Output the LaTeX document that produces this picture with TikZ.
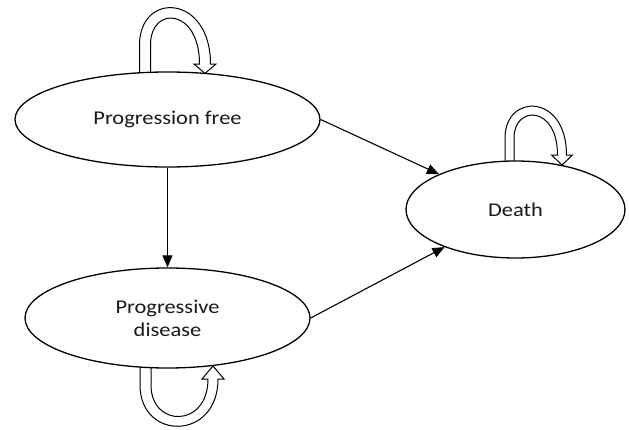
\documentclass[tikz,border=0pt]{standalone}
\usepackage{fontspec}
\setmainfont{Carlito}
\newfontfamily\lblfont[FakeStretch=1.15]{Carlito}
\usetikzlibrary{shapes.geometric,arrows.meta}
\begin{document}
\begin{tikzpicture}[x=1pt,y=-1pt,
  state/.style={ellipse, draw=black, fill=white, line width=1.3pt, inner sep=0pt,
    font=\lblfont\fontsize{19.5}{23}\selectfont, text=black!90, align=center},
  trans/.style={draw=black, line width=1.1pt, -{Triangle[length=12pt,width=10pt]}},
  loopshape/.style={draw=black, fill=white, line width=1pt}]
\useasboundingbox (0,0) rectangle (629,429);
% self-loops (hollow curved arrows)
\path[loopshape] (139.5,78) -- (139.5,45) .. controls (139.5,-9) and (210.5,-6) .. (210.5,64)
  -- (216,64) -- (205,73.5) -- (194,64) -- (199.5,64)
  .. controls (199.5,8) and (150.5,5) .. (150.5,45) -- (150.5,78) -- cycle;
\path[loopshape] (505,168) -- (505,138) .. controls (505,93) and (566.5,93) .. (566.5,155)
  -- (572.5,155) -- (562,165) -- (551.5,155) -- (557.5,155)
  .. controls (557.5,105) and (514,105) .. (514,138) -- (514,168) -- cycle;
\path[loopshape] (140,360) -- (140,385) .. controls (140,441) and (218,441) .. (218,379)
  -- (224,379) -- (213,366) -- (202,379) -- (208,379)
  .. controls (208,428) and (151,428) .. (151,385) -- (151,360) -- cycle;
% states
\node[state, minimum width=305pt, minimum height=95pt] (pf) at (167.5,119.5) {Progression free};
\node[state, minimum width=285pt, minimum height=100pt] (pd) at (167.5,318) {Progressive\\disease};
\node[state, minimum width=219pt, minimum height=97pt] (death) at (515.5,209.5) {Death};
% transitions
\draw[trans] (pf.south) -- (pd.north);
\draw[trans] (pf.east) -- (death);
\draw[trans] (pd.east) -- (death);
\end{tikzpicture}
\end{document}
